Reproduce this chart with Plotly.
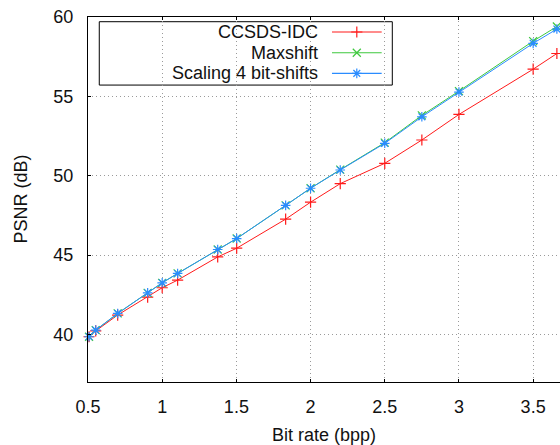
import plotly.graph_objects as go

# Data
bitrate = [0.507, 0.552, 0.70, 0.902, 1.0, 1.104, 1.374, 1.502, 1.832, 2.0, 2.2, 2.5, 2.75, 3.0, 3.5, 3.66]
psnr_ccsds = [39.85, 40.22, 41.22, 42.35, 42.94, 43.42, 44.88, 45.43, 47.26, 48.33, 49.50, 50.78, 52.25, 53.86, 56.71, 57.70]
psnr_maxshift = [39.85, 40.27, 41.32, 42.62, 43.25, 43.84, 45.35, 46.04, 48.13, 49.21, 50.38, 52.08, 53.80, 55.33, 58.48, 59.40]
psnr_scaling = [39.85, 40.27, 41.32, 42.62, 43.25, 43.84, 45.35, 46.04, 48.13, 49.21, 50.36, 52.04, 53.71, 55.27, 58.34, 59.24]

series_names = ["CCSDS-IDC", "Maxshift", "Scaling 4 bit-shifts"]
series_colors = ["#ff1a1a", "#3ec83e", "#2a8cff"]
series_symbols = ["cross-thin-open", "x-thin-open", "asterisk-open"]
series_values = [psnr_ccsds, psnr_maxshift, psnr_scaling]

x_ticks = [0.5, 1, 1.5, 2, 2.5, 3, 3.5]
y_ticks = [40, 45, 50, 55, 60]

FONT = "Liberation Sans, Arial, sans-serif"
FS = 18
TXT = "#111111"

fig = go.Figure()
for name, col, sym, vals in zip(series_names, series_colors, series_symbols, series_values):
    fig.add_trace(go.Scatter(
        x=bitrate, y=vals, mode="lines+markers", name=name,
        line=dict(color=col, width=1),
        marker=dict(symbol=sym, size=8, color=col, line=dict(color=col, width=1.2)),
        showlegend=False, cliponaxis=False,
    ))

# Custom gnuplot-like legend (text right-aligned, sample on the right)
row_y = [0.9589, 0.9021, 0.8456]
lx0, lx1, lxm = 0.5169, 0.6222, 0.5695
for name, col, sym, ry in zip(series_names, series_colors, series_symbols, row_y):
    fig.add_trace(go.Scatter(x=[lx0, lx1], y=[ry, ry], mode="lines",
                             line=dict(color=col, width=1.2), xaxis="x2", yaxis="y2",
                             showlegend=False, hoverinfo="skip"))
    fig.add_trace(go.Scatter(x=[lxm], y=[ry], mode="markers",
                             marker=dict(symbol=sym, size=8, color=col, line=dict(color=col, width=1.2)),
                             xaxis="x2", yaxis="y2", showlegend=False, hoverinfo="skip"))
    fig.add_annotation(x=0.4894, y=ry, xref="paper", yref="paper", text=name,
                       showarrow=False, xanchor="right", yanchor="middle", borderpad=0,
                       font=dict(family=FONT, size=FS, color=TXT))

fig.add_shape(type="rect", xref="paper", yref="paper", x0=0.0239, x1=0.6447, y0=0.8135, y1=0.9871,
              line=dict(color="black", width=1), fillcolor="white", layer="between")

# Axis titles
fig.add_annotation(x=0.5, y=-0.1462, xref="paper", yref="paper", text="Bit rate (bpp)",
                   showarrow=False, xanchor="center", yanchor="middle", borderpad=0,
                   font=dict(family=FONT, size=FS, color=TXT))
fig.add_annotation(x=-0.144, y=0.5, xref="paper", yref="paper", text="PSNR (dB)",
                   showarrow=False, xanchor="center", yanchor="middle", textangle=-90,
                   font=dict(family=FONT, size=FS, color=TXT))

fig.update_layout(
    width=560, height=445,
    margin=dict(l=88, r=0, t=17, b=63),
    paper_bgcolor="white", plot_bgcolor="white",
    font=dict(family=FONT, size=FS, color=TXT),
    xaxis=dict(range=[0.5, 3.681], tickvals=x_ticks, ticktext=[str(v) for v in x_ticks],
               showgrid=True, gridcolor="#9a9a9a", griddash="1px,3px", gridwidth=1,
               showline=True, linecolor="black", linewidth=1, mirror="ticks",
               ticks="inside", ticklen=3, tickcolor="black", zeroline=False,
               ticklabelstandoff=8),
    yaxis=dict(range=[37, 60], tickvals=y_ticks, ticktext=[str(v) for v in y_ticks],
               showgrid=True, gridcolor="#9a9a9a", griddash="1px,3px", gridwidth=1,
               showline=True, linecolor="black", linewidth=1.3, mirror=False,
               ticks="inside", ticklen=3, tickcolor="black", zeroline=False,
               ticklabelstandoff=10),
    xaxis2=dict(overlaying="x", range=[0, 1], visible=False),
    yaxis2=dict(overlaying="y", range=[0, 1], visible=False),
)

fig.write_html("out.html")
